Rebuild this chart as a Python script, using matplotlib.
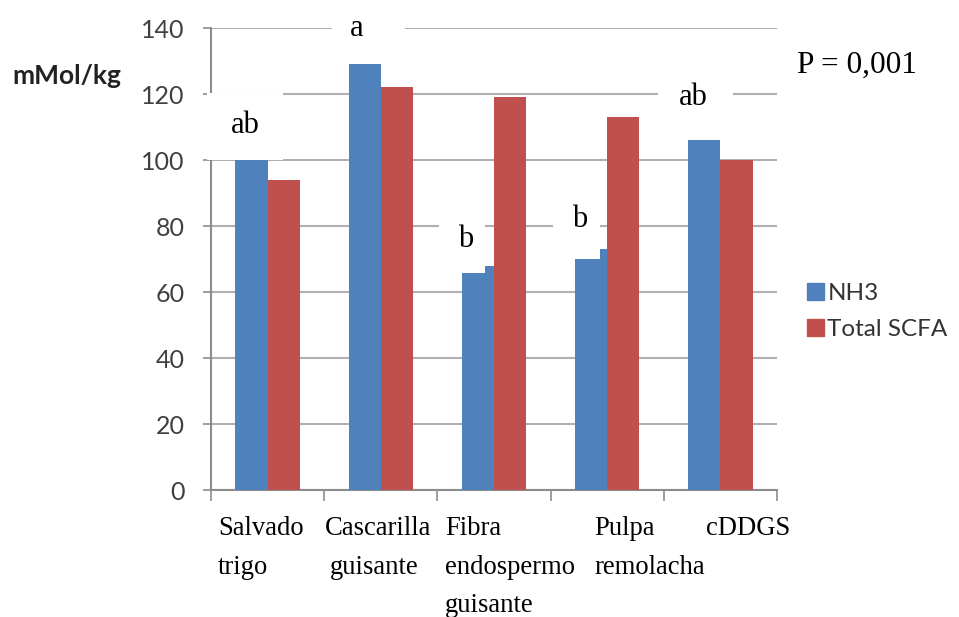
import matplotlib
matplotlib.use("Agg")
import matplotlib.pyplot as plt
from matplotlib.patches import Rectangle, Patch
import numpy as np

# data
categories = ["Salvado\ntrigo", "Cascarilla\nguisante", "Fibra\nendospermo\nguisante",
              "Pulpa\nremolacha", "cDDGS"]
nh3 = [101, 129, 68, 73, 106]
scfa = [94, 122, 119, 113, 100]
letters = ["ab", "a", "b", "b", "ab"]
series_names = ["NH3", "Total SCFA"]
y_ticks = [0, 20, 40, 60, 80, 100, 120, 140]

BLUE = "#4F81BD"
RED = "#C0504D"
GRID = "#B0B0B0"
AXIS = "#8C8C8C"
SERIF = ["Liberation Serif", "DejaVu Serif"]
SANS = ["Lato", "DejaVu Sans"]

W, H = 959, 617
fig = plt.figure(figsize=(W / 100, H / 100), dpi=100)
ax = fig.add_axes([211 / W, 1 - 490 / H, (777 - 211) / W, (490 - 28) / H])

x = np.arange(len(categories))
bw = 0.285
ax.bar(x - bw / 2, nh3, bw, color=BLUE, zorder=3)
ax.bar(x + bw / 2, scfa, bw, color=RED, zorder=3)

ax.set_xlim(-0.5, len(categories) - 0.5)
ax.set_ylim(0, 140)
ax.set_yticks(y_ticks)
ax.set_yticklabels([str(t) for t in y_ticks], family=SANS, fontsize=18, color="#404040")
ax.yaxis.grid(True, color=GRID, lw=1.5, zorder=0)
ax.set_axisbelow(True)

ax.set_xticks([])
ax.set_xticks(np.arange(len(categories) + 1) - 0.5, minor=True)
ax.tick_params(axis="x", which="minor", length=8, width=1.2, color=AXIS, labelbottom=False)
ax.tick_params(axis="y", length=6, width=1.2, color=AXIS, pad=13)

for s in ["top", "right"]:
    ax.spines[s].set_visible(False)
for s in ["left", "bottom"]:
    ax.spines[s].set_color(AXIS)
    ax.spines[s].set_linewidth(1.5)

# white label boxes pasted over the chart (category offset x0, x1, y0, y1)
boxes = [(-0.535, 0.14, 100, 120.3), (-0.435, 0.21, 133, 147),
         (-0.49, -0.08, 65.8, 89), (-0.48, -0.067, 70, 92), (-0.55, 0.11, 110, 127)]
text_pos = [(-0.2, 110.5), (-0.21, 140), (-0.25, 76), (-0.24, 82), (-0.24, 119)]
for i, (b, tp, lab) in enumerate(zip(boxes, text_pos, letters)):
    ax.add_patch(Rectangle((i + b[0], b[2]), b[1] - b[0], b[3] - b[2],
                           facecolor="white", edgecolor="none", zorder=5, clip_on=False))
    ax.text(i + tp[0], tp[1], lab, ha="center", va="center", family=SERIF,
            fontsize=22, zorder=6, clip_on=False)

# category labels, typed as free text boxes under the axis
label_x = [218, 325, 445, 594, 706]
baselines = [535, 574, 612]
for lx, cat in zip(label_x, categories):
    for j, line in enumerate(cat.split("\n")):
        off = 5 if (j == 1 and lx == 325) else 0
        fig.text((lx + off) / W, 1 - baselines[j] / H, line, family=SERIF,
                 fontsize=19.2, ha="left", va="baseline")

fig.text(12 / W, 1 - 76 / H, "mMol/kg", family=SANS, fontsize=19, fontweight="bold",
         color="#222222", ha="left", va="center")
fig.text(797 / W, 1 - 65 / H, "P = 0,001", family=SERIF, fontsize=22.5,
         ha="left", va="center")

handles = [Patch(color=BLUE), Patch(color=RED)]
fig.legend(handles, series_names, loc="upper left", bbox_to_anchor=(800 / W, 1 - 276 / H),
           frameon=False, handlelength=0.68, handleheight=0.68, handletextpad=0.15,
           labelspacing=0.62, borderaxespad=0, borderpad=0.3,
           prop={"family": SANS, "size": 17.5}, labelcolor="#333333")

fig.savefig("out.png", dpi=100)
